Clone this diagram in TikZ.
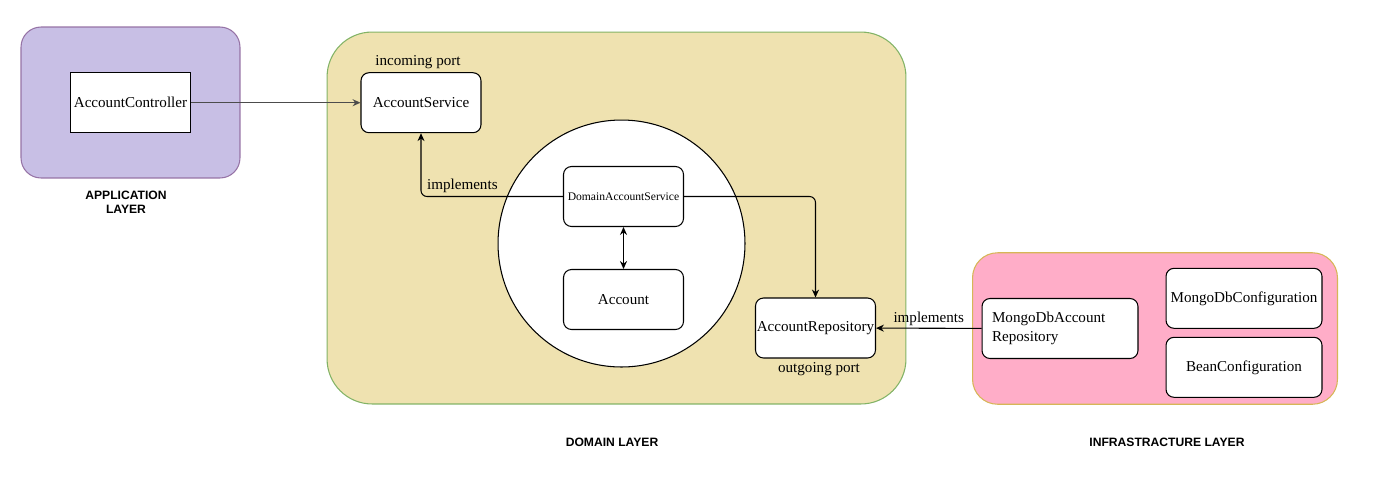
\documentclass[tikz,border=0pt]{standalone}
\usepackage{fontspec}
\setmainfont{Liberation Serif}
\newfontfamily\layerfont{Liberation Sans}
\usetikzlibrary{arrows.meta,positioning,calc}
\definecolor{appfill}{HTML}{C8BFE5}
\definecolor{appline}{HTML}{9673A6}
\definecolor{domfill}{HTML}{EFE2B0}
\definecolor{domline}{HTML}{82B366}
\definecolor{infrafill}{HTML}{FFADC8}
\definecolor{infraline}{HTML}{D6B656}
\newcommand{\boxtext}{\fontsize{8.6}{10.6}\selectfont}

\begin{document}
\begin{tikzpicture}[x=0.02cm, y=-0.02cm,
    layer/.style={draw, line width=0.6pt},
    box/.style={draw, fill=white, line width=0.6pt, rounded corners=0.16cm,
      minimum width=2.4cm, minimum height=1.2cm, inner sep=0pt, font=\boxtext},
    conn/.style={-{Stealth[length=4.5pt,width=4pt]}, line width=0.6pt, rounded corners=0.12cm},
    tag/.style={font=\boxtext, inner sep=1pt},
    caption/.style={font=\layerfont\bfseries\fontsize{6.9}{8}\selectfont, align=center}]
    \useasboundingbox (0,0) rectangle (1382,495);

    % Application layer
    \node[layer, fill=appfill, draw=appline, rounded corners=0.4cm,
      minimum width=4.38cm, minimum height=3.02cm] (applayer) at (130.5,102.5) {};
    \node[box, sharp corners] (ctrl) at (130.5,102.7) {AccountController};
    \node[caption] (appcap) at (126,202.5) {APPLICATION\\LAYER};

    % Domain layer
    \node[layer, fill=domfill, draw=domline, rounded corners=0.9cm,
      minimum width=11.58cm, minimum height=7.44cm] (domlayer) at (616.5,218) {};
    \node[circle, draw, fill=white, line width=0.6pt, minimum size=4.94cm] (core) at (621.5,243.5) {};
    \node[box] (svc) at (421,102.7) {AccountService};
    \node[tag] (inport) at (418,62) {incoming port};
    \node[box, font=\fontsize{6.6}{7.8}\selectfont] (das) at (623.5,196.5) {DomainAccountService};
    \node[box] (acct) at (623.5,299.5) {Account};
    \node[box] (repo) at (815.5,328) {AccountRepository};
    \node[tag] (outport) at (819,369) {outgoing port};
    \node[caption] (domcap) at (612,442) {DOMAIN LAYER};

    % Infrastructure layer
    \node[layer, fill=infrafill, draw=infraline, rounded corners=0.5cm,
      minimum width=7.3cm, minimum height=3.03cm] (infralayer) at (1155,328.5) {};
    \node[box, minimum width=3.12cm, text width=2.72cm, inner xsep=0.2cm, align=left] (mongo) at (1060,328.5)
      {MongoDbAccount\\Repository};
    \node[box, minimum width=3.12cm] (mongocfg) at (1244,298.3) {MongoDbConfiguration};
    \node[box, minimum width=3.12cm] (beancfg) at (1244,367.3) {BeanConfiguration};
    \node[caption] (infracap) at (1167,442) {INFRASTRACTURE LAYER};

    % Connectors
    \draw[conn, black!70] (ctrl) -- (svc);
    \draw[conn] (das.west) -| (svc.south);
    \node[tag, anchor=west] (impl1) at (425,186) {implements};
    \draw[conn] (das.east) -| (repo.north);
    \draw[{Stealth[length=4.5pt,width=4pt]}-{Stealth[length=4.5pt,width=4pt]}, line width=0.6pt] (das) -- (acct);
    \draw[conn] (mongo) -- node[tag, above] (impl2) {implements} (repo);
\end{tikzpicture}
\end{document}
